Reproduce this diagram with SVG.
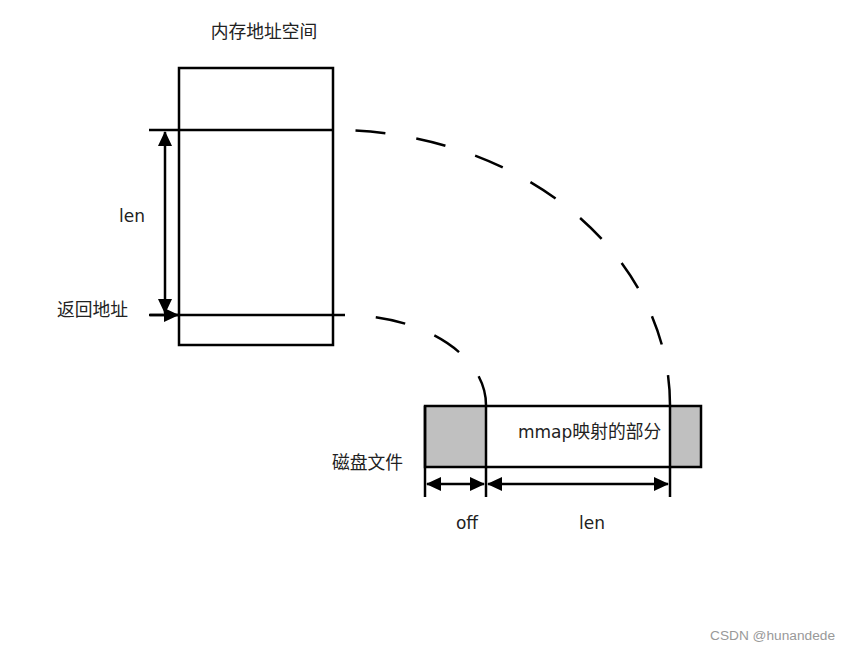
<svg xmlns="http://www.w3.org/2000/svg" width="852" height="650" viewBox="0 0 852 650">
<style>
.s{fill:none;stroke:#000;stroke-width:2.5}
.d{fill:none;stroke:#000;stroke-width:2.5;stroke-dasharray:30 31.3}
.t{font-family:"DejaVu Sans","Noto Sans CJK SC",sans-serif;font-size:17px;fill:#222}
.c{font-size:17.8px}
.w{font-family:"Liberation Sans",Arial,sans-serif;font-size:13.7px;fill:#999}
</style>
<defs>
<marker id="ah" viewBox="0 0 15 14" refX="14" refY="7" markerWidth="15" markerHeight="14" markerUnits="userSpaceOnUse" orient="auto-start-reverse">
<path d="M0,0 L15,7 L0,14 z" fill="#000"/>
</marker>
</defs>
<rect width="852" height="650" fill="#fff"/>
<g id="memory">
<rect x="179" y="68" width="154" height="277" class="s"/>
<line x1="149" y1="130" x2="333" y2="130" class="s"/>
<line x1="149" y1="315" x2="345" y2="315" class="s"/>
<text x="264" y="38" text-anchor="middle" class="t c">内存地址空间</text>
</g>
<g id="file">
<rect x="425" y="406" width="61" height="61" fill="#c0c0c0"/>
<rect x="670" y="406" width="31" height="61" fill="#c0c0c0"/>
<rect x="425" y="406" width="276" height="61" class="s"/>
<line x1="425" y1="406" x2="425" y2="497" class="s"/>
<line x1="486" y1="405" x2="486" y2="497" class="s"/>
<line x1="670" y1="405" x2="670" y2="497" class="s"/>
<text x="518" y="438" class="t">mmap<tspan class="c">映射的部分</tspan></text>
<text x="332" y="469" class="t c">磁盘文件</text>
</g>
<g id="connectors">
<path d="M670,405 A337,275 0 0 0 333,130" class="d"/>
<path d="M486,405 A141,90 0 0 0 345,315" class="d"/>
<line x1="165" y1="132" x2="165" y2="313" class="s" marker-start="url(#ah)" marker-end="url(#ah)"/>
<line x1="150" y1="315" x2="178" y2="315" class="s" marker-end="url(#ah)"/>
<line x1="427" y1="484" x2="484" y2="484" class="s" marker-start="url(#ah)" marker-end="url(#ah)"/>
<line x1="488" y1="484" x2="668" y2="484" class="s" marker-start="url(#ah)" marker-end="url(#ah)"/>
</g>
<g id="labels">
<text x="132" y="222" text-anchor="middle" class="t">len</text>
<text x="57" y="316" class="t c">返回地址</text>
<text x="467" y="529" text-anchor="middle" class="t">off</text>
<text x="592" y="529" text-anchor="middle" class="t">len</text>
<text x="710" y="640" class="w">CSDN @hunandede</text>
</g>
</svg>
